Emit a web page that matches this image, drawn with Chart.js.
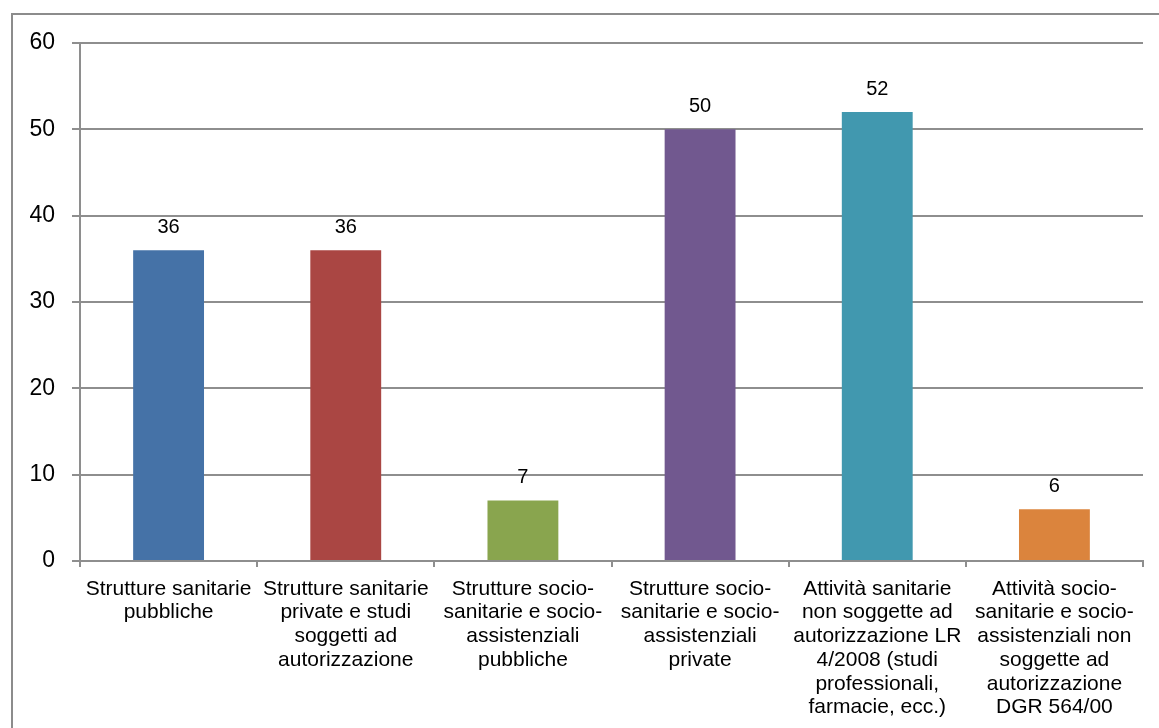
<!DOCTYPE html>
<html>
<head>
<meta charset="utf-8">
<script src="https://cdn.jsdelivr.net/npm/chart.js@4"></script>
<style>
    body { margin: 0; background: #fff; overflow: hidden; }
    .frame {
        position: absolute;
        left: 11px;
        top: 13px;
        width: 1300px;
        height: 900px;
        border: 2px solid #8c8c8c;
    }
    #chart { position: absolute; left: 0; top: 0; }
</style>
</head>
<body>
<div class="frame"></div>
<canvas id="chart" width="1159" height="728"></canvas>
<script>
const categories = [
    ['Strutture sanitarie', 'pubbliche'],
    ['Strutture sanitarie', 'private e studi', 'soggetti ad', 'autorizzazione'],
    ['Strutture socio-', 'sanitarie e socio-', 'assistenziali', 'pubbliche'],
    ['Strutture socio-', 'sanitarie e socio-', 'assistenziali', 'private'],
    ['Attività sanitarie', 'non soggette ad', 'autorizzazione LR', '4/2008 (studi', 'professionali,', 'farmacie, ecc.)'],
    ['Attività socio-', 'sanitarie e socio-', 'assistenziali non', 'soggette ad', 'autorizzazione', 'DGR 564/00']
];
const values = [36, 36, 7, 50, 52, 6];
const barColors = ['#4572A7', '#AA4643', '#89A54E', '#71588F', '#4198AF', '#DB843D'];
const yTicks = [0, 10, 20, 30, 40, 50, 60];

const gridColor = '#8e8e8e';
const fontFamily = '"Liberation Sans", Arial, sans-serif';

// value labels above each bar
const valueLabels = {
    id: 'valueLabels',
    afterDatasetsDraw(chart) {
        const ctx = chart.ctx;
        const meta = chart.getDatasetMeta(0);
        ctx.save();
        ctx.font = '20px ' + fontFamily;
        ctx.fillStyle = '#000';
        ctx.textAlign = 'center';
        ctx.textBaseline = 'middle';
        meta.data.forEach((bar, i) => {
            ctx.fillText(String(values[i]), bar.x, bar.y - 23);
        });
        ctx.restore();
    }
};

new Chart(document.getElementById('chart'), {
    type: 'bar',
    data: {
        labels: categories,
        datasets: [{
            data: values,
            backgroundColor: barColors,
            borderWidth: 0,
            barPercentage: 0.4,
            categoryPercentage: 1
        }]
    },
    options: {
        responsive: false,
        animation: false,
        devicePixelRatio: 1,
        layout: {
            padding: { top: 43, right: 16, left: 0, bottom: 0 }
        },
        plugins: {
            legend: { display: false },
            tooltip: { enabled: false }
        },
        scales: {
            x: {
                grid: {
                    drawOnChartArea: false,
                    drawTicks: true,
                    tickLength: 6,
                    color: gridColor,
                    lineWidth: 2
                },
                border: { color: gridColor, width: 2 },
                ticks: {
                    color: '#000',
                    font: { family: fontFamily, size: 21, lineHeight: 1.13 },
                    padding: 10,
                    maxRotation: 0,
                    autoSkip: false
                },
                afterFit(scale) {
                    scale.height = 728 - 561;
                }
            },
            y: {
                min: 0,
                max: 60,
                afterBuildTicks(scale) {
                    scale.ticks = yTicks.map(v => ({ value: v }));
                },
                grid: {
                    color: gridColor,
                    lineWidth: 2,
                    tickLength: 8
                },
                border: { color: gridColor, width: 2 },
                ticks: {
                    color: '#000',
                    font: { family: fontFamily, size: 23 },
                    padding: 17
                },
                afterFit(scale) {
                    scale.width = 80;
                }
            }
        }
    },
    plugins: [valueLabels]
});
</script>
</body>
</html>
